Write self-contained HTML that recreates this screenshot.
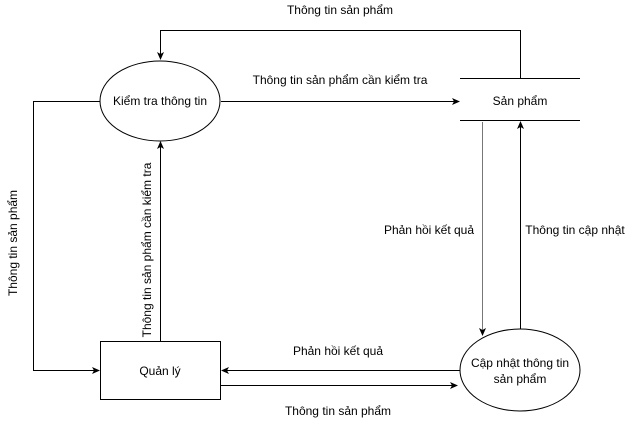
<!DOCTYPE html>
<html><head><meta charset="utf-8"><style>
html,body{margin:0;padding:0;background:#fff}
svg text{font-family:"Liberation Sans",sans-serif;font-size:12px;fill:#000}
</style></head><body>
<svg width="631" height="421" viewBox="0 0 631 421" xmlns="http://www.w3.org/2000/svg">
<defs><marker id="a" markerWidth="8" markerHeight="8" refX="7" refY="4" orient="auto" markerUnits="userSpaceOnUse"><path d="M0,0.5 L8,4 L0,7.5 L2,4 Z" fill="#000"/></marker></defs>
<g stroke="#000" stroke-width="1" fill="none">
<ellipse cx="160" cy="101" rx="60" ry="40" fill="#fff"/>
<ellipse cx="520" cy="370" rx="60" ry="41" fill="#fff"/>
<rect x="100.5" y="341.5" width="120" height="58" fill="#fff"/>
<line x1="460" y1="78.5" x2="580" y2="78.5"/>
<line x1="460" y1="120.5" x2="580" y2="120.5"/>
<path d="M520.5,78 V30.5 H160.5 V59" marker-end="url(#a)"/>
<path d="M221,101.5 H459" marker-end="url(#a)"/>
<path d="M100,101.5 H33.5 V370.5 H99" marker-end="url(#a)"/>
<path d="M160.5,341 V142" marker-end="url(#a)"/>
<path d="M482.5,122 V335" stroke="#777" marker-end="url(#a)"/>
<path d="M520.5,329 V122" marker-end="url(#a)"/>
<path d="M460,370.5 H222" marker-end="url(#a)"/>
<path d="M221,385.5 H457" marker-end="url(#a)"/>
</g>
<text x="340" y="14" text-anchor="middle">Thông tin sản phẩm</text>
<text x="340" y="84" text-anchor="middle">Thông tin sản phẩm cần kiểm tra</text>
<text x="160" y="105" text-anchor="middle">Kiểm tra thông tin</text>
<text x="520" y="105" text-anchor="middle">Sản phẩm</text>
<text x="429" y="234" text-anchor="middle">Phản hồi kết quả</text>
<text x="575" y="234" text-anchor="middle">Thông tin cập nhật</text>
<text x="338" y="355" text-anchor="middle">Phản hồi kết quả</text>
<text x="338" y="415" text-anchor="middle">Thông tin sản phẩm</text>
<text x="160" y="375" text-anchor="middle">Quản lý</text>
<text x="520" y="367" text-anchor="middle">Cập nhật thông tin</text>
<text x="520" y="383" text-anchor="middle">sản phẩm</text>
<text transform="translate(17,243) rotate(-90)" text-anchor="middle">Thông tin sản phẩm</text>
<text transform="translate(151,250) rotate(-90)" text-anchor="middle">Thông tin sản phẩm cần kiểm tra</text>
</svg>
</body></html>
